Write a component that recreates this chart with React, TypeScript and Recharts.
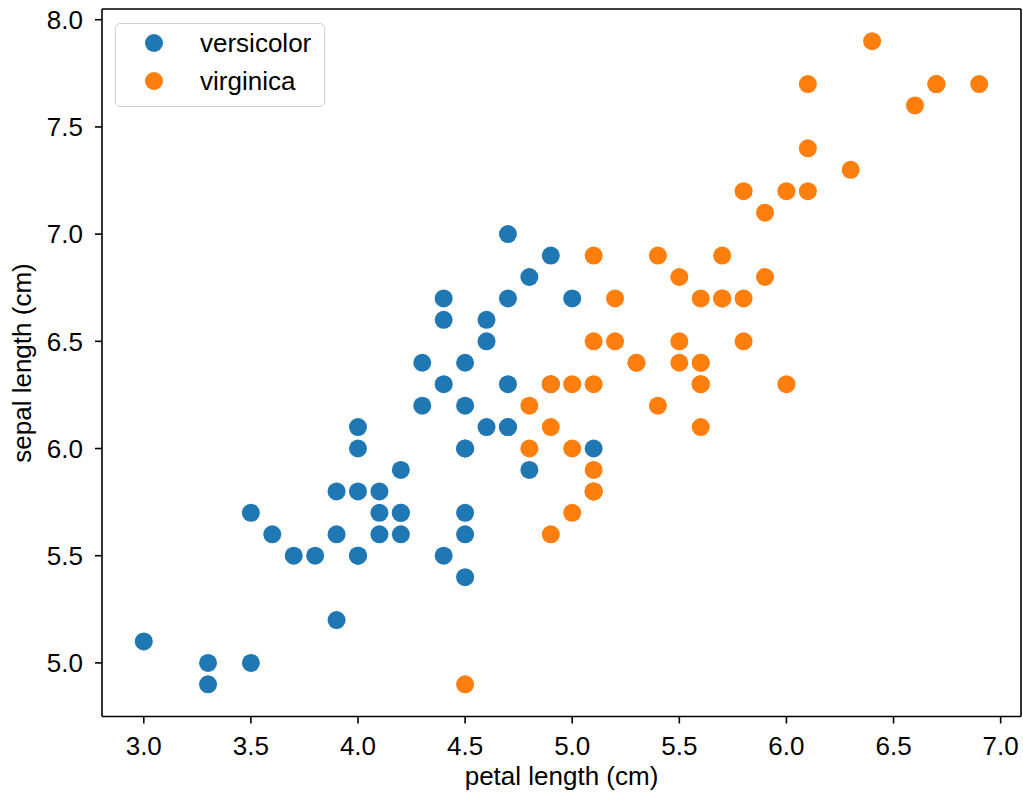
import { ScatterChart, Scatter, XAxis, YAxis } from 'recharts'

// iris: petal length vs sepal length
const versicolorPetal = [4.7, 4.5, 4.9, 4.0, 4.6, 4.5, 4.7, 3.3, 4.6, 3.9, 3.5, 4.2, 4.0, 4.7, 3.6, 4.4, 4.5, 4.1, 4.5, 3.9, 4.8, 4.0, 4.9, 4.7, 4.3, 4.4, 4.8, 5.0, 4.5, 3.5, 3.8, 3.7, 3.9, 5.1, 4.5, 4.5, 4.7, 4.4, 4.1, 4.0, 4.4, 4.6, 4.0, 3.3, 4.2, 4.2, 4.2, 4.3, 3.0, 4.1]
const versicolorSepal = [7.0, 6.4, 6.9, 5.5, 6.5, 5.7, 6.3, 4.9, 6.6, 5.2, 5.0, 5.9, 6.0, 6.1, 5.6, 6.7, 5.6, 5.8, 6.2, 5.6, 5.9, 6.1, 6.3, 6.1, 6.4, 6.6, 6.8, 6.7, 6.0, 5.7, 5.5, 5.5, 5.8, 6.0, 5.4, 6.0, 6.7, 6.3, 5.6, 5.5, 5.5, 6.1, 5.8, 5.0, 5.6, 5.7, 5.7, 6.2, 5.1, 5.7]
const virginicaPetal = [6.0, 5.1, 5.9, 5.6, 5.8, 6.6, 4.5, 6.3, 5.8, 6.1, 5.1, 5.3, 5.5, 5.0, 5.1, 5.3, 5.5, 6.7, 6.9, 5.0, 5.7, 4.9, 6.7, 4.9, 5.7, 6.0, 4.8, 4.9, 5.6, 5.8, 6.1, 6.4, 5.6, 5.1, 5.6, 6.1, 5.6, 5.5, 4.8, 5.4, 5.6, 5.1, 5.1, 5.9, 5.7, 5.2, 5.0, 5.2, 5.4, 5.1]
const virginicaSepal = [6.3, 5.8, 7.1, 6.3, 6.5, 7.6, 4.9, 7.3, 6.7, 7.2, 6.5, 6.4, 6.8, 5.7, 5.8, 6.4, 6.5, 7.7, 7.7, 6.0, 6.9, 5.6, 7.7, 6.3, 6.7, 7.2, 6.2, 6.1, 6.4, 7.2, 7.4, 7.9, 6.4, 6.3, 6.1, 7.7, 6.3, 6.4, 6.0, 6.9, 6.7, 6.9, 5.8, 6.8, 6.7, 6.7, 6.3, 6.5, 6.2, 5.9]

const xTicks = [3.0, 3.5, 4.0, 4.5, 5.0, 5.5, 6.0, 6.5, 7.0]
const yTicks = [5.0, 5.5, 6.0, 6.5, 7.0, 7.5, 8.0]

const series = [
  { name: 'versicolor', color: '#1f77b4', x: versicolorPetal, y: versicolorSepal },
  { name: 'virginica', color: '#ff7f0e', x: virginicaPetal, y: virginicaSepal },
]

const FONT = '"Liberation Sans", Arial, Helvetica, sans-serif'
const FS = 26

const YLabel = () => {
  const cy = 9 + (717 - 9) / 2
  return (
    <text x={22} y={cy} transform={`rotate(-90 22 ${cy})`} textAnchor="middle" dominantBaseline="central"
      fontSize={FS} fill="#000" fontFamily={FONT}>
      sepal length (cm)
    </text>
  )
}

const XLabel = (props: any) => {
  const vb = props.viewBox
  return (
    <text x={vb.x + vb.width / 2} y={785} textAnchor="middle" fontSize={FS} fill="#000" fontFamily={FONT}>
      petal length (cm)
    </text>
  )
}

const LegendBox = () => (
  <div style={{
    position: 'absolute', left: 115, top: 23,
    width: 210, height: 84, border: '1.5px solid #d0d0d0', borderRadius: 5, background: 'rgba(255,255,255,0.8)',
    boxSizing: 'border-box', fontFamily: FONT, fontSize: FS, color: '#000'
  }}>
    {series.map((s, i) => (
      <div key={s.name} style={{ position: 'absolute', left: 0, top: 3 + i * 38, height: 32, display: 'flex', alignItems: 'center' }}>
        <svg width={56} height={32} style={{ display: 'block' }}>
          <circle cx={38} cy={16} r={9} fill={s.color} />
        </svg>
        <span style={{ marginLeft: 28 }}>{s.name}</span>
      </div>
    ))}
  </div>
)

export default function App() {
  return (
    <div style={{ position: 'absolute', left: 0, top: 0, width: 1023, height: 796, background: '#fff' }}>
      <ScatterChart width={1023} height={796} margin={{ top: 8, right: 1, left: 0, bottom: 0 }}>
        <XAxis
          type="number" dataKey="x" domain={[2.805, 7.095]} ticks={xTicks} allowDataOverflow
          tickFormatter={(v: number) => v.toFixed(1)} height={79.5}
          tickSize={7} tickMargin={13} axisLine={{ stroke: '#000', strokeWidth: 1.6 }}
          tickLine={{ stroke: '#000', strokeWidth: 1.6 }}
          tick={{ fill: '#000', fontSize: FS, fontFamily: FONT }}
          label={<XLabel />}
        />
        <YAxis
          type="number" dataKey="y" domain={[4.75, 8.05]} ticks={yTicks} allowDataOverflow
          tickFormatter={(v: number) => v.toFixed(1)} width={102}
          tickSize={7} tickMargin={12} axisLine={{ stroke: '#000', strokeWidth: 1.6 }}
          tickLine={{ stroke: '#000', strokeWidth: 1.6 }}
          tick={{ fill: '#000', fontSize: FS, fontFamily: FONT }}
          label={<YLabel />}
        />
        <XAxis xAxisId="top" orientation="top" type="number" domain={[2.805, 7.095]} height={1}
          tick={false} tickLine={false} axisLine={{ stroke: '#000', strokeWidth: 1.6 }} />
        <YAxis yAxisId="right" orientation="right" type="number" domain={[4.75, 8.05]} width={1}
          tick={false} tickLine={false} axisLine={{ stroke: '#000', strokeWidth: 1.6 }} />
        {series.map((s) => (
          <Scatter
            key={s.name}
            name={s.name}
            data={s.x.map((x, i) => ({ x, y: s.y[i] }))}
            fill={s.color}
            isAnimationActive={false}
            shape={(p: any) => <circle cx={p.cx} cy={p.cy} r={9} fill={s.color} />}
          />
        ))}
      </ScatterChart>
      <LegendBox />
    </div>
  )
}
